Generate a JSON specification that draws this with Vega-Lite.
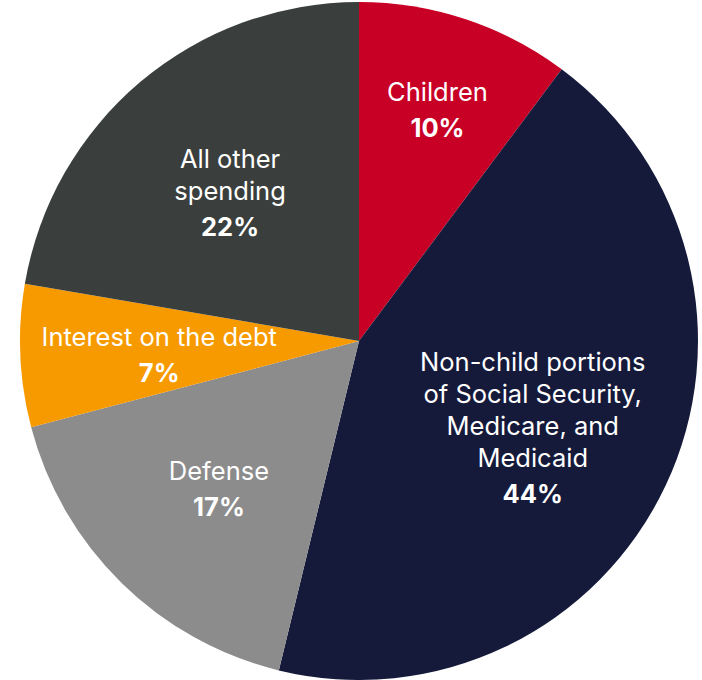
{
  "$schema": "https://vega.github.io/schema/vega-lite/v6.json",
  "width": 678,
  "height": 678,
  "autosize": "none",
  "padding": {"left": 20, "top": 2, "right": 4, "bottom": 0},
  "background": "white",
  "view": {"stroke": null},
  "data": {
    "values": [
      {"rank": 1, "category": "Children", "label": ["Children"], "pct": "10%", "value": 10.2},
      {"rank": 2, "category": "Non-child", "label": ["Non-child portions", "of Social Security,", "Medicare, and", "Medicaid"], "pct": "44%", "value": 43.6},
      {"rank": 3, "category": "Defense", "label": ["Defense"], "pct": "17%", "value": 17.1},
      {"rank": 4, "category": "Interest", "label": ["Interest on the debt"], "pct": "7%", "value": 6.8},
      {"rank": 5, "category": "Other", "label": ["All other", "spending"], "pct": "22%", "value": 22.3}
    ]
  },
  "encoding": {
    "theta": {"field": "value", "type": "quantitative", "stack": true},
    "order": {"field": "rank", "type": "quantitative"}
  },
  "layer": [
    {
      "mark": {"type": "arc", "radius": 339},
      "encoding": {
        "color": {
          "field": "category",
          "type": "nominal",
          "scale": {
            "domain": ["Children", "Non-child", "Defense", "Interest", "Other"],
            "range": ["#C80026", "#151A3B", "#8C8C8C", "#F79A00", "#3A3F3D"]
          },
          "legend": null
        }
      }
    },
    {
      "mark": {
        "type": "text",
        "radius": {"expr": "datum.category == 'Children' ? 249 : datum.category == 'Non-child' ? 192 : 200"},
        "font": "Inter",
        "fontSize": 25.5,
        "color": "white",
        "align": "center",
        "baseline": "alphabetic",
        "lineHeight": 32,
        "dy": {"expr": "-4 - (length(datum.label) - 1) * 16"}
      },
      "encoding": {"text": {"field": "label", "type": "nominal"}}
    },
    {
      "mark": {
        "type": "text",
        "radius": {"expr": "datum.category == 'Children' ? 249 : datum.category == 'Non-child' ? 192 : 200"},
        "font": "Inter",
        "fontSize": 25.5,
        "fontWeight": "bold",
        "color": "white",
        "align": "center",
        "baseline": "alphabetic",
        "dy": {"expr": "32 + (length(datum.label) - 1) * 16"}
      },
      "encoding": {"text": {"field": "pct", "type": "nominal"}}
    }
  ]
}
